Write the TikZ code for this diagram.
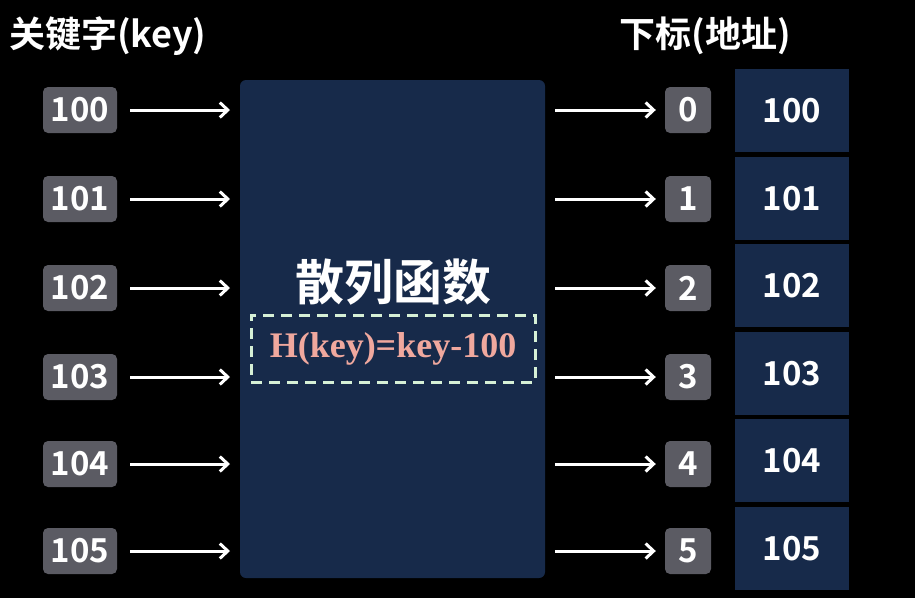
\documentclass[tikz,border=0pt]{standalone}
\usepackage{fontspec}
\setmainfont{Liberation Serif}
\newfontfamily\cjk{Noto Sans CJK SC}[BoldFont={* Bold}]
\usetikzlibrary{arrows.meta}
\definecolor{navy}{HTML}{172A4A}
\definecolor{keygray}{HTML}{5B5B63}
\definecolor{dashgreen}{HTML}{D6F0D6}
\definecolor{formulapink}{HTML}{F0A89E}
\tikzset{
  keybox/.style={fill=keygray, rounded corners=5pt, minimum width=74pt, minimum height=46pt, inner sep=0pt, text=white, font=\cjk\bfseries\fontsize{33}{33}\selectfont},
  idxbox/.style={fill=keygray, rounded corners=5pt, minimum width=46pt, minimum height=46pt, inner sep=0pt, text=white, font=\cjk\bfseries\fontsize{33}{33}\selectfont},
  cellbox/.style={fill=navy, minimum width=114pt, minimum height=83pt, inner sep=0pt, text=white, font=\cjk\bfseries\fontsize{33}{33}\selectfont},
  arr/.style={draw=white, line width=3pt, -{Straight Barb[length=8pt,width=15pt,line width=3pt]}},
  heading/.style={text=white, font=\cjk\bfseries\fontsize{36}{36}\selectfont, inner sep=0pt}
}
\begin{document}
\begin{tikzpicture}[x=1pt,y=-1pt]
\fill[black] (0,0) rectangle (915,598);
\useasboundingbox (0,0) rectangle (915,598);
\node[heading, anchor=west] (h1) at (9,36) {关键字(key)};
\node[heading] (h2) at (705,36) {下标(地址)};
\node[fill=navy, rounded corners=6pt, minimum width=305pt, minimum height=498pt, inner sep=0pt] (hf) at (392.5,329) {};
\node[text=white, font=\cjk\bfseries\fontsize{49}{49}\selectfont, inner sep=0pt] (title) at (393,282) {散列函数};
\node[draw=dashgreen, line width=3pt, dash pattern=on 11pt off 7pt, minimum width=284pt, minimum height=67pt, inner sep=0pt, text=formulapink, font=\bfseries\fontsize{36}{36}\selectfont] (fml) at (393,348.5) {H(key)=key-100};
\foreach \i/\k/\y in {0/100/110, 1/101/199, 2/102/288, 3/103/377, 4/104/464, 5/105/551} {
  \node[keybox] (k\i) at (80,\y) {\k};
  \coordinate (a\i) at (230,\y);
  \coordinate (b\i) at (555,\y);
  \node[idxbox] (x\i) at (688,\y) {\i};
  \draw[arr] (k\i.east) ++(13,0) -- (a\i);
  \draw[arr] (b\i) -- ([xshift=-9pt]x\i.west);
}
\foreach \i/\k in {0/100, 1/101, 2/102, 3/103, 4/104, 5/105} {
  \node[cellbox] (c\i) at (792, 110.5+87.6*\i) {\k};
}
\end{tikzpicture}
\end{document}
